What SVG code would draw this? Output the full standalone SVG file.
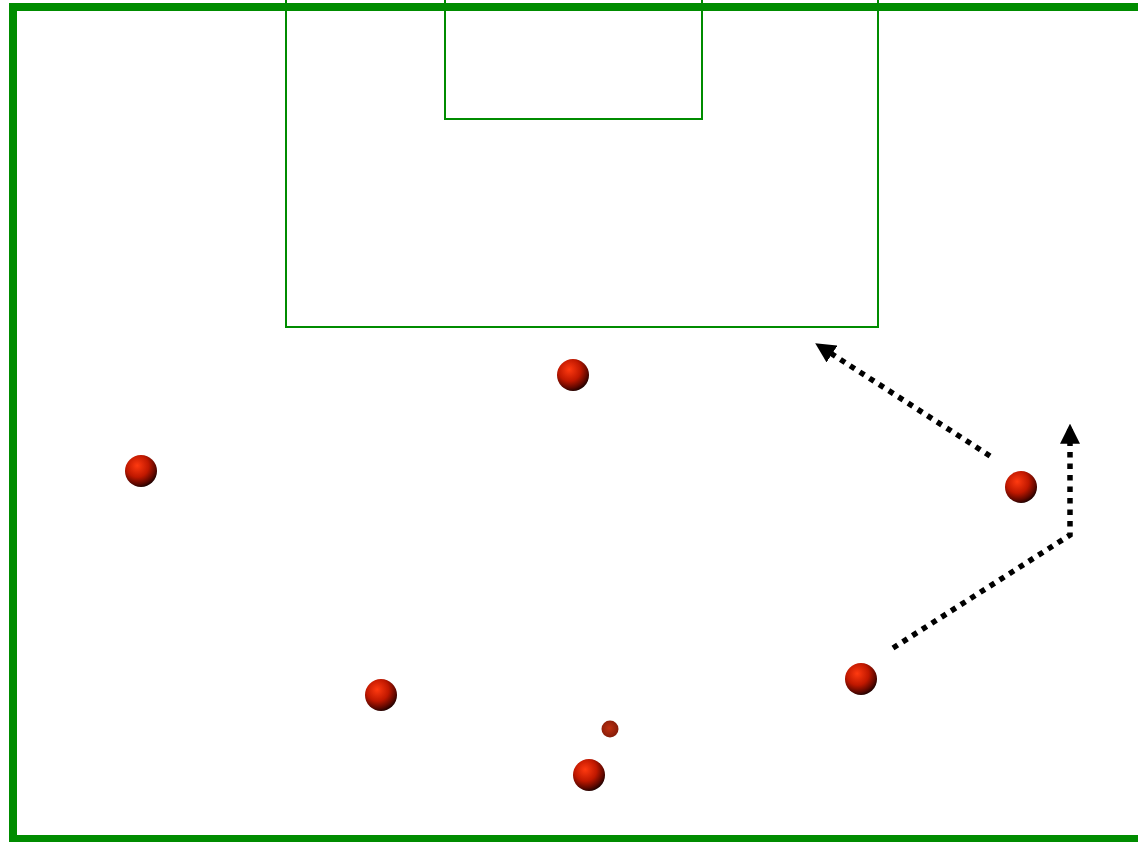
<svg xmlns="http://www.w3.org/2000/svg" width="1138" height="842" viewBox="0 0 1138 842">
<style>
.field{fill:none;stroke:#008c00}
.run{fill:none;stroke:#000;stroke-width:5.5;stroke-dasharray:5.5 6}
</style>
<defs>
<radialGradient id="ball" cx="0.4" cy="0.35" r="0.7" fx="0.38" fy="0.33">
<stop offset="0" stop-color="#ff3a10"/>
<stop offset="0.5" stop-color="#c01800"/>
<stop offset="0.8" stop-color="#600800"/>
<stop offset="1" stop-color="#100000"/>
</radialGradient>
<radialGradient id="small" cx="0.45" cy="0.45" r="0.6">
<stop offset="0" stop-color="#c03010"/>
<stop offset="1" stop-color="#801a08"/>
</radialGradient>
<marker id="arr" markerUnits="userSpaceOnUse" markerWidth="20" markerHeight="20" refX="15" refY="9" orient="auto" viewBox="0 0 18 18">
<path d="M0,0 L18,9 L0,18 Z" fill="#000"/>
</marker>
</defs>
<rect width="1138" height="842" fill="#fff"/>
<g id="pitch">
<rect class="field" x="13" y="7" width="1140" height="832" stroke-width="8"/>
<path class="field" stroke-width="2" d="M286,0 V327 H878 V0"/>
<path class="field" stroke-width="2" d="M445,0 V119 H702 V0"/>
</g>
<g id="connectors">
<path class="run" d="M990,456 L818,345" marker-end="url(#arr)"/>
<path class="run" d="M893,648 L1070,535 L1070,427" marker-end="url(#arr)"/>
</g>
<g id="player1"><circle cx="573" cy="375" r="16" fill="url(#ball)"/></g>
<g id="player2"><circle cx="141" cy="471" r="16" fill="url(#ball)"/></g>
<g id="player3"><circle cx="1021" cy="487" r="16" fill="url(#ball)"/></g>
<g id="player4"><circle cx="381" cy="695" r="16" fill="url(#ball)"/></g>
<g id="player5"><circle cx="861" cy="679" r="16" fill="url(#ball)"/></g>
<g id="player6"><circle cx="589" cy="775" r="16" fill="url(#ball)"/></g>
<g id="ball1"><circle cx="610" cy="729" r="8.5" fill="url(#small)"/></g>
</svg>
